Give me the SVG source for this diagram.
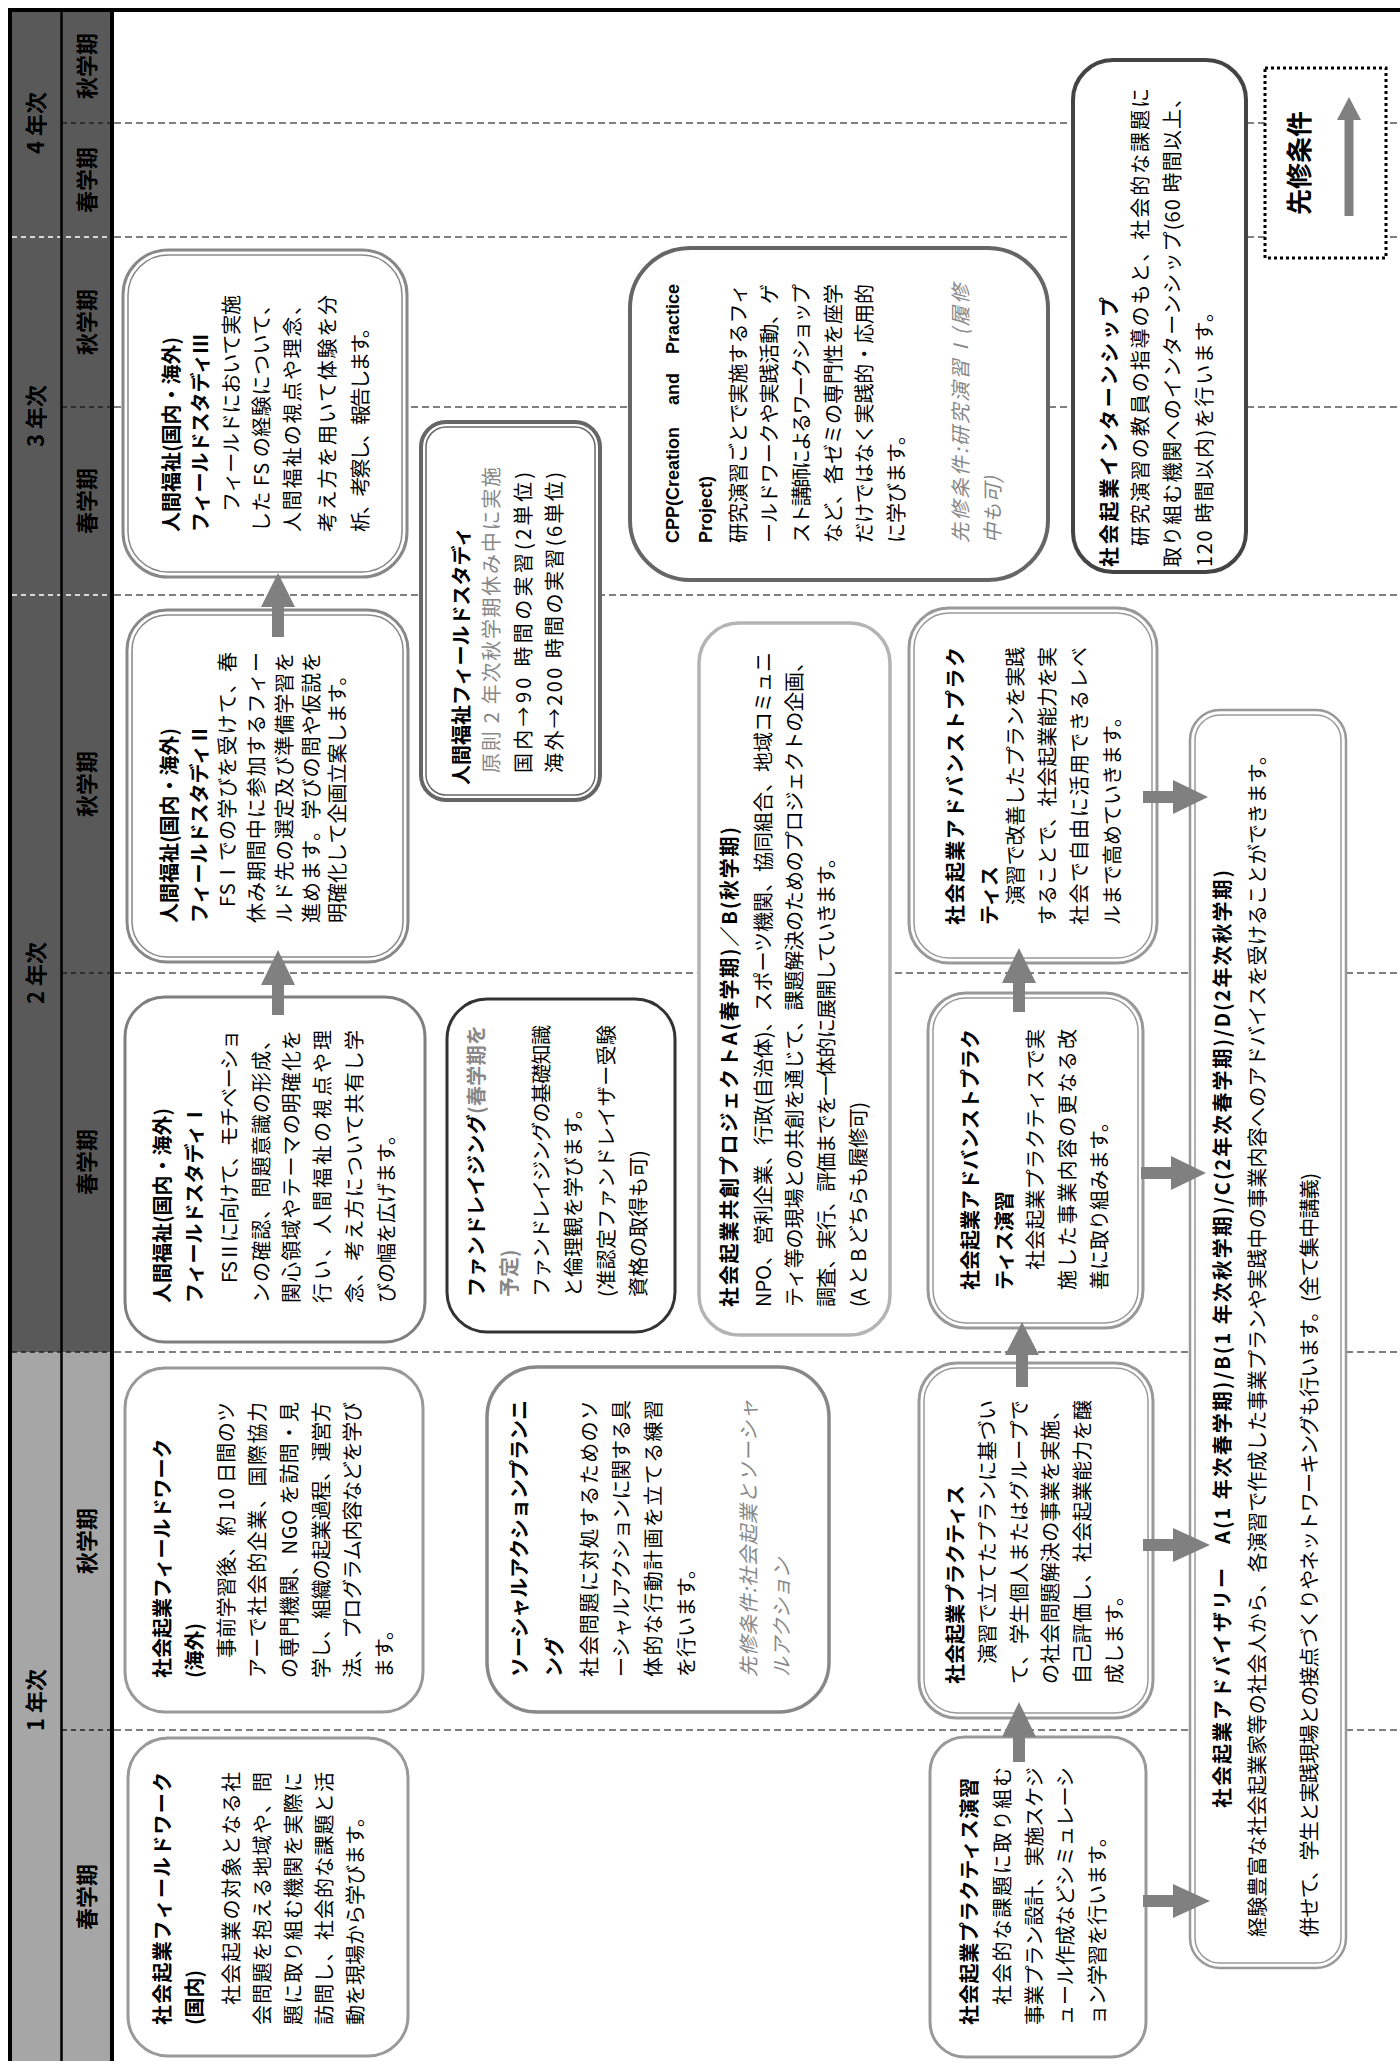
<svg xmlns="http://www.w3.org/2000/svg" width="1400" height="2061" viewBox="0 0 1400 2061">
<style>
.t{font-family:"Noto Sans CJK JP","Noto Sans CJK SC",sans-serif;font-size:20px;fill:#000}
.b{font-weight:bold}
.g{fill:#888}
.i{font-style:italic}
.h{font-family:"Noto Sans CJK JP","Noto Sans CJK SC",sans-serif;font-size:22px;font-weight:bold;fill:#000}
.lat{font-family:"Liberation Sans",Arial,sans-serif;font-size:18px;font-weight:bold;fill:#000}
.box{fill:#fff}
.dl{stroke:#555;stroke-width:1.5;stroke-dasharray:7,4;fill:none}
.dh{stroke:#222;stroke-width:1.5;stroke-dasharray:5,4;fill:none}
.dw{stroke:#fff;stroke-width:1.5;stroke-dasharray:5,4;fill:none}
.arr{fill:#808080}
</style>
<rect x="0" y="0" width="1400" height="2061" fill="#fff"/>

<g id="header">
  <rect x="10" y="12" width="102" height="1340" fill="#595959"/>
  <rect x="10" y="1352" width="102" height="709" fill="#a6a6a6"/>
  <line x1="114" y1="123" x2="1400" y2="123" class="dl"/>
  <line x1="114" y1="237" x2="1400" y2="237" class="dl"/>
  <line x1="114" y1="407" x2="1400" y2="407" class="dl"/>
  <line x1="114" y1="595" x2="1400" y2="595" class="dl"/>
  <line x1="114" y1="973" x2="1400" y2="973" class="dl"/>
  <line x1="114" y1="1352" x2="1400" y2="1352" class="dl"/>
  <line x1="114" y1="1730" x2="1400" y2="1730" class="dl"/>
  <line x1="62" y1="123" x2="112" y2="123" class="dh"/>
  <line x1="12" y1="237" x2="112" y2="237" class="dw"/>
  <line x1="62" y1="407" x2="112" y2="407" class="dh"/>
  <line x1="12" y1="595" x2="112" y2="595" class="dw"/>
  <line x1="62" y1="973" x2="112" y2="973" class="dh"/>
  <line x1="12" y1="1352" x2="112" y2="1352" class="dh"/>
  <line x1="62" y1="1730" x2="112" y2="1730" class="dh"/>
  <line x1="10" y1="8" x2="10" y2="2061" stroke="#000" stroke-width="4"/>
  <line x1="61.5" y1="10" x2="61.5" y2="2061" stroke="#000" stroke-width="2.5"/>
  <line x1="112" y1="10" x2="112" y2="2061" stroke="#000" stroke-width="4"/>
  <line x1="8" y1="10" x2="1400" y2="10" stroke="#000" stroke-width="4"/>
  <g transform="matrix(0,-1,1,0,0,2061)">
    <text class="h" x="1938" y="44" text-anchor="middle">4 年次</text>
    <text class="h" x="1995" y="95" text-anchor="middle">秋学期</text>
    <text class="h" x="1881" y="95" text-anchor="middle">春学期</text>
    <text class="h" x="1645" y="44" text-anchor="middle">3 年次</text>
    <text class="h" x="1739" y="95" text-anchor="middle">秋学期</text>
    <text class="h" x="1560" y="95" text-anchor="middle">春学期</text>
    <text class="h" x="1088" y="44" text-anchor="middle">2 年次</text>
    <text class="h" x="1277" y="95" text-anchor="middle">秋学期</text>
    <text class="h" x="899" y="95" text-anchor="middle">春学期</text>
    <text class="h" x="361" y="44" text-anchor="middle">1 年次</text>
    <text class="h" x="520" y="95" text-anchor="middle">秋学期</text>
    <text class="h" x="164" y="95" text-anchor="middle">春学期</text>
  </g>
</g>

<g id="fw-domestic">
  <rect class="box" x="128" y="1738" width="280" height="318" rx="40" stroke="#999" stroke-width="3"/>
  <g transform="matrix(0,-1,1,0,0,2061)">
    <text class="t b" x="36" y="170" textLength="253" lengthAdjust="spacing">社会起業フィールドワーク</text>
    <text class="t b" x="36" y="202">(国内)</text>
    <text class="t" x="56" y="239" textLength="233" lengthAdjust="spacing">社会起業の対象となる社</text>
    <text class="t" x="36" y="270" textLength="253" lengthAdjust="spacing">会問題を抱える地域や、問</text>
    <text class="t" x="36" y="301" textLength="253" lengthAdjust="spacing">題に取り組む機関を実際に</text>
    <text class="t" x="36" y="332" textLength="253" lengthAdjust="spacing">訪問し、社会的な課題と活</text>
    <text class="t" x="36" y="363">動を現場から学びます。</text>
  </g>
</g>

<g id="fw-overseas">
  <rect class="box" x="125" y="1368" width="298" height="344" rx="40" stroke="#999" stroke-width="3"/>
  <g transform="matrix(0,-1,1,0,0,2061)">
    <text class="t b" x="383" y="170">社会起業フィールドワーク</text>
    <text class="t b" x="383" y="202">(海外)</text>
    <text class="t" x="403" y="234" textLength="256" lengthAdjust="spacing">事前学習後、約 10 日間のツ</text>
    <text class="t" x="383" y="265" textLength="276" lengthAdjust="spacing">アーで社会的企業、国際協力</text>
    <text class="t" x="383" y="297" textLength="276" lengthAdjust="spacing">の専門機関、NGO を訪問・見</text>
    <text class="t" x="383" y="329" textLength="276" lengthAdjust="spacing">学し、組織の起業過程、運営方</text>
    <text class="t" x="383" y="360" textLength="276" lengthAdjust="spacing">法、プログラム内容などを学び</text>
    <text class="t" x="383" y="392">ます。</text>
  </g>
</g>

<g id="social-action">
  <rect class="box" x="487" y="1367" width="342" height="345" rx="50" stroke="#888" stroke-width="3.5"/>
  <g transform="matrix(0,-1,1,0,0,2061)">
    <text class="t b" x="384" y="527" textLength="277" lengthAdjust="spacing">ソーシャルアクションプランニ</text>
    <text class="t b" x="384" y="562">ング</text>
    <text class="t" x="384" y="597" textLength="277" lengthAdjust="spacing">社会問題に対処するためのソ</text>
    <text class="t" x="384" y="629" textLength="277" lengthAdjust="spacing">ーシャルアクションに関する具</text>
    <text class="t" x="384" y="661" textLength="277" lengthAdjust="spacing">体的な行動計画を立てる練習</text>
    <text class="t" x="384" y="694">を行います。</text>
    <text class="t g i" x="384" y="756" textLength="277" lengthAdjust="spacing">先修条件:社会起業とソーシャ</text>
    <text class="t g i" x="384" y="789">ルアクション</text>
  </g>
</g>

<g id="practice-seminar">
  <rect class="box" x="930" y="1737" width="216" height="320" rx="35" stroke="#999" stroke-width="3"/>
  <g transform="matrix(0,-1,1,0,0,2061)">
    <text class="t b" x="36" y="977" textLength="247" lengthAdjust="spacing">社会起業プラクティス演習</text>
    <text class="t" x="56" y="1010" textLength="238" lengthAdjust="spacing">社会的な課題に取り組む</text>
    <text class="t" x="36" y="1042" textLength="258" lengthAdjust="spacing">事業プラン設計、実施スケジ</text>
    <text class="t" x="36" y="1073" textLength="258" lengthAdjust="spacing">ュール作成などシミュレーシ</text>
    <text class="t" x="36" y="1105">ョン学習を行います。</text>
  </g>
</g>

<g id="practice">
  <rect class="box" x="919" y="1363" width="234" height="355" rx="38" stroke="#999" stroke-width="3"/>
  <rect x="924" y="1368" width="224" height="345" rx="33" fill="none" stroke="#999" stroke-width="1.5"/>
  <g transform="matrix(0,-1,1,0,0,2061)">
    <text class="t b" x="377" y="963">社会起業プラクティス</text>
    <text class="t" x="397" y="995" textLength="264" lengthAdjust="spacing">演習で立てたプランに基づい</text>
    <text class="t" x="377" y="1027" textLength="284" lengthAdjust="spacing">て、学生個人またはグループで</text>
    <text class="t" x="377" y="1058" textLength="284" lengthAdjust="spacing">の社会問題解決の事業を実施、</text>
    <text class="t" x="377" y="1090" textLength="284" lengthAdjust="spacing">自己評価し、社会起業能力を醸</text>
    <text class="t" x="377" y="1122">成します。</text>
  </g>
</g>

<g id="advanced-seminar">
  <rect class="box" x="928" y="993" width="215" height="335" rx="38" stroke="#999" stroke-width="3"/>
  <rect x="933" y="998" width="205" height="325" rx="33" fill="none" stroke="#999" stroke-width="1.5"/>
  <g transform="matrix(0,-1,1,0,0,2061)">
    <text class="t b" x="771" y="978" textLength="261" lengthAdjust="spacing">社会起業アドバンストプラク</text>
    <text class="t b" x="771" y="1012">ティス演習</text>
    <text class="t" x="791" y="1043" textLength="241" lengthAdjust="spacing">社会起業プラクティスで実</text>
    <text class="t" x="771" y="1075" textLength="261" lengthAdjust="spacing">施した事業内容の更なる改</text>
    <text class="t" x="771" y="1107">善に取り組みます。</text>
  </g>
</g>

<g id="advanced">
  <rect class="box" x="909" y="608" width="248" height="355" rx="40" stroke="#999" stroke-width="3"/>
  <rect x="914" y="613" width="238" height="345" rx="35" fill="none" stroke="#999" stroke-width="1.5"/>
  <g transform="matrix(0,-1,1,0,0,2061)">
    <text class="t b" x="1136" y="963" textLength="278" lengthAdjust="spacing">社会起業アドバンストプラク</text>
    <text class="t b" x="1136" y="997">ティス</text>
    <text class="t" x="1156" y="1023" textLength="258" lengthAdjust="spacing">演習で改善したプランを実践</text>
    <text class="t" x="1136" y="1055" textLength="278" lengthAdjust="spacing">することで、社会起業能力を実</text>
    <text class="t" x="1136" y="1087" textLength="278" lengthAdjust="spacing">社会で自由に活用できるレベ</text>
    <text class="t" x="1136" y="1120">ルまで高めていきます。</text>
  </g>
</g>

<g id="advisory">
  <rect class="box" x="1190" y="710" width="156" height="1258" rx="30" stroke="#999" stroke-width="2.5"/>
  <rect x="1195" y="715" width="146" height="1248" rx="25" fill="none" stroke="#999" stroke-width="1.5"/>
  <g transform="matrix(0,-1,1,0,0,2061)">
    <text class="t b" x="722" y="1230" text-anchor="middle" textLength="938" lengthAdjust="spacing">社会起業アドバイザリー　A(1 年次春学期)/B(1 年次秋学期)/C(2年次春学期)/D(2年次秋学期)</text>
    <text class="t" x="124" y="1265" textLength="1192" lengthAdjust="spacing">経験豊富な社会起業家等の社会人から、各演習で作成した事業プランや実践中の事業内容へのアドバイスを受けることができます。</text>
    <text class="t" x="124" y="1317" textLength="764" lengthAdjust="spacing">併せて、学生と実践現場との接点づくりやネットワーキングも行います。(全て集中講義)</text>
  </g>
</g>

<g id="fs1">
  <rect class="box" x="125" y="997" width="300" height="345" rx="40" stroke="#7f7f7f" stroke-width="3"/>
  <g transform="matrix(0,-1,1,0,0,2061)">
    <text class="t b" x="758" y="170">人間福祉(国内・海外)</text>
    <text class="t b" x="758" y="202">フィールドスタディⅠ</text>
    <text class="t" x="778" y="237" textLength="253" lengthAdjust="spacing">FSⅡに向けて、モチベーショ</text>
    <text class="t" x="758" y="269" textLength="273" lengthAdjust="spacing">ンの確認、問題意識の形成、</text>
    <text class="t" x="758" y="299" textLength="273" lengthAdjust="spacing">関心領域やテーマの明確化を</text>
    <text class="t" x="758" y="330" textLength="273" lengthAdjust="spacing">行い、人間福祉の視点や理</text>
    <text class="t" x="758" y="362" textLength="273" lengthAdjust="spacing">念、考え方について共有し学</text>
    <text class="t" x="758" y="394">びの幅を広げます。</text>
  </g>
</g>

<g id="fs2">
  <rect class="box" x="127" y="610" width="281" height="352" rx="40" stroke="#888" stroke-width="3"/>
  <rect x="132" y="615" width="271" height="342" rx="35" fill="none" stroke="#888" stroke-width="1.5"/>
  <g transform="matrix(0,-1,1,0,0,2061)">
    <text class="t b" x="1138" y="177">人間福祉(国内・海外)</text>
    <text class="t b" x="1138" y="207">フィールドスタディⅡ</text>
    <text class="t" x="1154" y="235" textLength="255" lengthAdjust="spacing">FSⅠでの学びを受けて、春</text>
    <text class="t" x="1138" y="264" textLength="271" lengthAdjust="spacing">休み期間中に参加するフィー</text>
    <text class="t" x="1138" y="292" textLength="271" lengthAdjust="spacing">ルド先の選定及び準備学習を</text>
    <text class="t" x="1138" y="319" textLength="271" lengthAdjust="spacing">進めます。学びの問や仮説を</text>
    <text class="t" x="1138" y="345">明確化して企画立案します。</text>
  </g>
</g>

<g id="fs3">
  <rect class="box" x="123" y="250" width="284" height="327" rx="45" stroke="#888" stroke-width="3"/>
  <rect x="128" y="255" width="274" height="317" rx="40" fill="none" stroke="#888" stroke-width="1.5"/>
  <g transform="matrix(0,-1,1,0,0,2061)">
    <text class="t b" x="1529" y="179">人間福祉(国内・海外)</text>
    <text class="t b" x="1529" y="208">フィールドスタディⅢ</text>
    <text class="t" x="1549" y="239" textLength="217" lengthAdjust="spacing">フィールドにおいて実施</text>
    <text class="t" x="1529" y="269" textLength="237" lengthAdjust="spacing">した FS の経験について、</text>
    <text class="t" x="1529" y="300" textLength="237" lengthAdjust="spacing">人間福祉の視点や理念、</text>
    <text class="t" x="1529" y="335" textLength="237" lengthAdjust="spacing">考え方を用いて体験を分</text>
    <text class="t" x="1529" y="368" textLength="214" lengthAdjust="spacing">析、考察し、報告します。</text>
  </g>
</g>

<g id="fs-summary">
  <rect class="box" x="421" y="422" width="179" height="378" rx="25" stroke="#666" stroke-width="4"/>
  <rect x="426" y="427" width="169" height="368" rx="20" fill="none" stroke="#666" stroke-width="1.5"/>
  <g transform="matrix(0,-1,1,0,0,2061)">
    <text class="t b" x="1276" y="469">人間福祉フィールドスタディ</text>
    <text class="t g" x="1288" y="499" textLength="306" lengthAdjust="spacing">原則 2 年次秋学期休み中に実施</text>
    <text class="t" x="1288" y="531" textLength="301" lengthAdjust="spacing">国内→90 時間の実習(2単位)</text>
    <text class="t" x="1288" y="562" textLength="301" lengthAdjust="spacing">海外→200 時間の実習(6単位)</text>
  </g>
</g>

<g id="fundraising">
  <rect class="box" x="447" y="999" width="228" height="333" rx="40" stroke="#333" stroke-width="3"/>
  <g transform="matrix(0,-1,1,0,0,2061)">
    <text class="t b" x="764" y="484" textLength="272" lengthAdjust="spacing">ファンドレイジング<tspan class="g">(春学期を</tspan></text>
    <text class="t b g" x="764" y="517">予定)</text>
    <text class="t" x="764" y="549" textLength="272" lengthAdjust="spacing">ファンドレイジングの基礎知識</text>
    <text class="t" x="764" y="581">と倫理観を学びます。</text>
    <text class="t" x="764" y="614" textLength="272" lengthAdjust="spacing">(准認定ファンドレイザー受験</text>
    <text class="t" x="764" y="646">資格の取得も可)</text>
  </g>
</g>

<g id="cocreation">
  <rect class="box" x="699" y="623" width="191" height="712" rx="40" stroke="#b4b4b4" stroke-width="3.5"/>
  <g transform="matrix(0,-1,1,0,0,2061)">
    <text class="t b" x="754" y="737" textLength="480" lengthAdjust="spacing">社会起業共創プロジェクトA(春学期)／B(秋学期)</text>
    <text class="t" x="754" y="771" textLength="655" lengthAdjust="spacing">NPO、営利企業、行政(自治体)、スポーツ機関、協同組合、地域コミュニ</text>
    <text class="t" x="754" y="802" textLength="655" lengthAdjust="spacing">ティ等の現場との共創を通じて、課題解決のためのプロジェクトの企画、</text>
    <text class="t" x="754" y="834" textLength="459" lengthAdjust="spacing">調査、実行、評価までを一体的に展開していきます。</text>
    <text class="t" x="754" y="866" textLength="205" lengthAdjust="spacing">(A と B どちらも履修可)</text>
  </g>
</g>

<g id="cpp">
  <rect class="box" x="630" y="248" width="418" height="332" rx="60" stroke="#666" stroke-width="4"/>
  <g transform="matrix(0,-1,1,0,0,2061)">
    <text class="lat" x="1518" y="679">CPP(Creation</text>
    <text class="lat" x="1672" y="679" text-anchor="middle">and</text>
    <text class="lat" x="1777" y="679" text-anchor="end">Practice</text>
    <text class="lat" x="1518" y="712">Project)</text>
    <text class="t" x="1518" y="746" textLength="259" lengthAdjust="spacing">研究演習ごとで実施するフィ</text>
    <text class="t" x="1518" y="777" textLength="259" lengthAdjust="spacing">ールドワークや実践活動、ゲ</text>
    <text class="t" x="1518" y="809" textLength="259" lengthAdjust="spacing">スト講師によるワークショップ</text>
    <text class="t" x="1518" y="841" textLength="259" lengthAdjust="spacing">など、各ゼミの専門性を座学</text>
    <text class="t" x="1518" y="872" textLength="259" lengthAdjust="spacing">だけではなく実践的・応用的</text>
    <text class="t" x="1518" y="904">に学びます。</text>
    <text class="t g i" x="1518" y="968" textLength="259" lengthAdjust="spacing">先修条件:研究演習Ⅰ(履修</text>
    <text class="t g i" x="1518" y="1000">中も可)</text>
  </g>
</g>

<g id="internship">
  <rect class="box" x="1073" y="60" width="173" height="512" rx="40" stroke="#444" stroke-width="4"/>
  <g transform="matrix(0,-1,1,0,0,2061)">
    <text class="t b" x="1494" y="1117" textLength="270" lengthAdjust="spacing">社会起業インターンシップ</text>
    <text class="t" x="1515" y="1148" textLength="458" lengthAdjust="spacing">研究演習の教員の指導のもと、社会的な課題に</text>
    <text class="t" x="1494" y="1180" textLength="479" lengthAdjust="spacing">取り組む機関へのインターンシップ(60 時間以上、</text>
    <text class="t" x="1494" y="1212" textLength="265" lengthAdjust="spacing">120 時間以内)を行います。</text>
  </g>
</g>

<g id="legend">
  <rect x="1265" y="68" width="121" height="190" fill="#fff" stroke="#000" stroke-width="3" stroke-dasharray="3,3"/>
  <polygon class="arr" points="1344.5,216 1344.5,120 1337,120 1349,97 1361,120 1353.5,120 1353.5,216"/>
  <g transform="matrix(0,-1,1,0,0,2061)">
    <text class="t b" x="1898" y="1309" text-anchor="middle" style="font-size:26px">先修条件</text>
  </g>
</g>

<g id="connectors">
  <polygon class="arr" points="272,1015 272,985 261,985 278,950 295,985 284,985 284,1015"/>
  <polygon class="arr" points="272,637 272,607 261,607 278,573 295,607 284,607 284,637"/>
  <polygon class="arr" points="1013,1762 1013,1737 1002,1737 1019,1702 1036,1737 1025,1737 1025,1762"/>
  <polygon class="arr" points="1016,1387 1016,1355 1005,1355 1022,1322 1039,1355 1028,1355 1028,1387"/>
  <polygon class="arr" points="1013,1012 1013,983 1002,983 1019,948 1036,983 1025,983 1025,1012"/>
  <polygon class="arr" points="1143,1895 1173,1895 1173,1884 1210,1901 1173,1918 1173,1907 1143,1907"/>
  <polygon class="arr" points="1143,1539 1173,1539 1173,1528 1210,1545 1173,1562 1173,1551 1143,1551"/>
  <polygon class="arr" points="1141,1167 1171,1167 1171,1156 1206,1173 1171,1190 1171,1179 1141,1179"/>
  <polygon class="arr" points="1143,791 1173,791 1173,780 1208,797 1173,814 1173,803 1143,803"/>
</g>
</svg>
